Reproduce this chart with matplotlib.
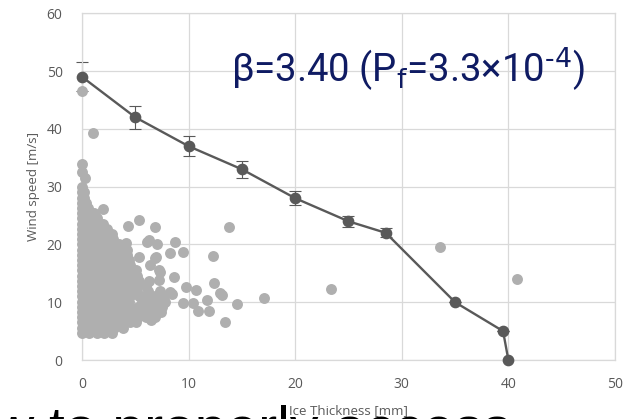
import matplotlib
matplotlib.use("Agg")
import matplotlib.pyplot as plt

# limit-state curve (ice thickness vs wind speed) with error bars
curve_x = [0, 5, 10, 15, 20, 25, 28.5, 35, 39.5, 40]
curve_y = [49, 42, 37, 33, 28, 24, 22, 10, 5, 0]
curve_err = [2.5, 2.0, 1.7, 1.5, 1.2, 1.0, 0.8, 0, 0, 0]

# observed points outside the dense cloud
obs_x = [0, 1.0, 2.0, 4.35, 5.35, 6.85, 13.8, 8.7, 9.45, 8.25, 12.25, 6.1, 7.0,
         5.35, 6.9, 7.3, 8.6, 7.25, 9.8, 10.7, 12.4, 13.1, 11.7, 9.45, 10.4,
         10.9, 11.9, 14.5, 13.4, 8.25, 7.6, 6.5, 5.1, 17.1, 23.4, 33.6, 40.8,
         12.9, 8.4, 4.1, 4.2, 6.85, 7.25, 0.3, 6.3]
obs_y = [46.5, 39.2, 26.2, 23.2, 24.3, 23.1, 23.0, 20.4, 18.75, 18.5, 18.0, 20.5,
         20.1, 17.9, 17.9, 15.3, 14.4, 13.8, 12.7, 12.2, 13.3, 11.2, 10.4, 9.9,
         9.8, 8.5, 8.4, 9.7, 6.5, 11.8, 11.0, 6.9, 6.5, 10.7, 12.3, 19.5, 14.0,
         11.6, 11.4, 20.3, 19.0, 17.6, 15.6, 31.5, 20.8]

# dense cloud near zero ice thickness, read row by row (wind speed: thicknesses)
cloud_rows = [
    (4.7, [0, 0.7, 1.4, 2.1, 2.8]),
    (5.6, [0, 0.75, 1.5, 2.25, 3.0, 3.8]),
    (6.5, [0, 0.75, 1.5, 2.25, 3.0, 3.75, 4.5]),
    (7.4, [0, 0.75, 1.5, 2.25, 3.0, 3.75, 4.5, 5.25, 6.0, 6.8]),
    (8.3, [0, 0.75, 1.5, 2.25, 3.0, 3.75, 4.5, 5.25, 6.0, 6.75, 7.4]),
    (9.2, [0, 0.75, 1.5, 2.25, 3.0, 3.75, 4.5, 5.25, 6.0, 6.75, 7.5]),
    (10.1, [0, 0.75, 1.5, 2.25, 3.0, 3.75, 4.4, 5.6, 6.3, 7.0, 7.8]),
    (11.0, [0, 0.75, 1.5, 2.25, 3.0, 3.75, 4.5, 5.3, 6.0, 6.8]),
    (11.9, [0, 0.75, 1.5, 2.25, 3.0, 3.75, 4.5, 5.2, 6.2, 7.3]),
    (12.8, [0, 0.75, 1.5, 2.25, 3.0, 3.75, 4.5, 5.2, 6.0]),
    (13.7, [0, 0.75, 1.5, 2.25, 3.0, 3.75, 4.5, 5.3, 6.3]),
    (14.6, [0, 0.75, 1.5, 2.25, 3.0, 3.75, 4.5, 5.2]),
    (15.5, [0, 0.75, 1.5, 2.25, 3.0, 3.75, 4.5, 5.1]),
    (16.4, [0, 0.75, 1.5, 2.25, 3.0, 3.75, 4.5, 6.4]),
    (17.3, [0, 0.75, 1.5, 2.25, 3.0, 3.75, 4.4]),
    (18.2, [0, 0.75, 1.5, 2.25, 3.0, 3.75, 4.2]),
    (19.1, [0, 0.75, 1.5, 2.25, 3.0, 3.7]),
    (20.0, [0, 0.75, 1.5, 2.25, 3.0, 3.5]),
    (20.9, [0, 0.75, 1.5, 2.25, 2.9]),
    (21.8, [0, 0.75, 1.5, 2.25, 2.8]),
    (22.7, [0, 0.75, 1.5, 2.3]),
    (23.6, [0, 0.75, 1.5, 2.0]),
    (24.5, [0, 0.7, 1.4]),
    (25.4, [0, 0.6, 1.1]),
    (26.3, [0, 0.6]),
    (27.2, [0, 0.4]),
    (28.1, [0, 0.2]),
    (29.0, [0, 0.2]),
    (29.9, [0]),
    (32.5, [0]),
    (34.0, [0]),
]

x_ticks = [0, 10, 20, 30, 40, 50]
y_ticks = [0, 10, 20, 30, 40, 50, 60]

cloud_x = [x for y, xs in cloud_rows for x in xs]
cloud_y = [y for y, xs in cloud_rows for x in xs]

fig = plt.figure(figsize=(6.29, 4.19), dpi=100)
ax = fig.add_axes([0.1304, 0.1408, 0.8473, 0.8275])

grid_c = "#d9d9d9"
text_c = "#595959"
dot_c = "#afafaf"
line_c = "#595959"

ax.errorbar(curve_x, curve_y, yerr=curve_err, fmt="none", ecolor=line_c,
            elinewidth=0.8, capsize=4, capthick=0.8, zorder=2, clip_on=False)
ax.scatter(cloud_x + obs_x, cloud_y + obs_y, s=62, color=dot_c,
           linewidths=0, zorder=3, clip_on=False)
ax.plot(curve_x, curve_y, "-o", color=line_c, lw=1.7, ms=7.4,
        zorder=4, clip_on=False)

ax.set_xlim(0, 50)
ax.set_ylim(0, 60)
ax.set_xticks(x_ticks)
ax.set_yticks(y_ticks)
ax.grid(True, color=grid_c, lw=0.9)
ax.set_axisbelow(True)
for s in ax.spines.values():
    s.set_color(grid_c)
    s.set_linewidth(0.9)
ax.tick_params(length=0, labelsize=10, colors=text_c, pad=12)
ax.tick_params(axis="y", pad=14)

ax.set_xlabel("Ice Thickness [mm]", fontsize=9.5, color=text_c, labelpad=9,
              family="Open Sans")
ax.set_ylabel("Wind speed [m/s]", fontsize=9.5, color=text_c, labelpad=5,
              family="Open Sans")
for lab in ax.get_xticklabels() + ax.get_yticklabels():
    lab.set_family("Open Sans")

ax.text(14.0, 48.1, r"β=3.40 (P$_{\text{f}}$=3.3×10$^{\text{-4}}$)",
        fontsize=27.5, color="#0f1b63", va="baseline", ha="left",
        family="Roboto")

# page text that overlaps the bottom of the image
fig.text(-0.013, -0.067, "w to properly access", fontsize=41, color="black",
         family="Liberation Sans", ha="left", va="baseline")

fig.savefig("out.png", dpi=100)
